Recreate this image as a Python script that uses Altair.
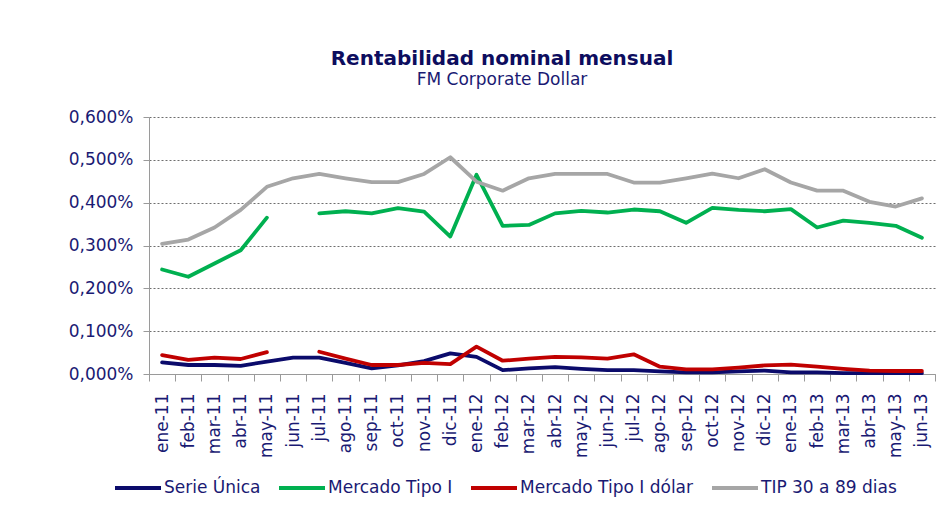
import altair as alt
import pandas as pd

months = ["ene-11", "feb-11", "mar-11", "abr-11", "may-11", "jun-11", "jul-11", "ago-11",
          "sep-11", "oct-11", "nov-11", "dic-11", "ene-12", "feb-12", "mar-12", "abr-12",
          "may-12", "jun-12", "jul-12", "ago-12", "sep-12", "oct-12", "nov-12", "dic-12",
          "ene-13", "feb-13", "mar-13", "abr-13", "may-13", "jun-13"]

series_names = ["Serie Única", "Mercado Tipo I", "Mercado Tipo I dólar", "TIP 30 a 89 dias"]
series_colors = ["#0B0B6B", "#00B050", "#C00000", "#A6A6A6"]

serie_unica = [0.027, 0.021, 0.021, 0.019, 0.029, 0.038, 0.038, 0.026, 0.013, 0.020,
               0.030, 0.048, 0.040, 0.009, 0.013, 0.016, 0.012, 0.009, 0.009, 0.006,
               0.004, 0.004, 0.006, 0.008, 0.004, 0.004, 0.002, 0.002, 0.002, 0.002]
mercado_tipo_i = [0.244, 0.227, 0.258, 0.289, 0.365, None, 0.375, 0.380, 0.375, 0.387,
                  0.379, 0.321, 0.465, 0.346, 0.348, 0.375, 0.381, 0.377, 0.384, 0.380,
                  0.353, 0.388, 0.383, 0.380, 0.385, 0.342, 0.358, 0.353, 0.346, 0.318]
mercado_dolar = [0.044, 0.033, 0.038, 0.035, 0.051, None, 0.052, 0.036, 0.021, 0.021,
                 0.026, 0.023, 0.064, 0.031, 0.036, 0.040, 0.039, 0.036, 0.046, 0.017,
                 0.011, 0.011, 0.015, 0.020, 0.022, 0.017, 0.012, 0.008, 0.007, 0.007]
tip_30_89 = [0.304, 0.314, 0.342, 0.383, 0.437, 0.457, 0.467, 0.457, 0.448, 0.448,
             0.467, 0.506, 0.449, 0.428, 0.457, 0.467, 0.467, 0.467, 0.447, 0.447,
             0.457, 0.468, 0.457, 0.478, 0.447, 0.428, 0.428, 0.402, 0.391, 0.410]

y_ticks = [0.0, 0.1, 0.2, 0.3, 0.4, 0.5, 0.6]

rows = []
for name, vals in zip(series_names, [serie_unica, mercado_tipo_i, mercado_dolar, tip_30_89]):
    for m, v in zip(months, vals):
        rows.append({"mes": m, "serie": name, "valor": v})
df = pd.DataFrame(rows)

label_color = "#1A1A73"
font = "DejaVu Sans"

chart = alt.Chart(df).mark_line(strokeWidth=3.8, strokeJoin="round", strokeCap="round").encode(
    x=alt.X("mes:N", sort=months, title=None,
            scale=alt.Scale(type="band", paddingInner=0, paddingOuter=0),
            axis=alt.Axis(labelAngle=270, tickBand="extent", grid=False, tickSize=7,
                          labelPadding=12, domainColor="#9A9A9A", tickColor="#9A9A9A",
                          labelColor=label_color, labelFont=font, labelFontSize=17)),
    y=alt.Y("valor:Q", title=None,
            scale=alt.Scale(domain=[0, 0.6], nice=False, zero=True),
            axis=alt.Axis(values=y_ticks,
                          labelExpr="replace(format(datum.value, '.3f'), '.', ',') + '%'",
                          grid=True, gridDash=[2, 2], gridColor="#6E6E6E", gridWidth=1,
                          tickSize=6, tickColor="#9A9A9A", domainColor="#9A9A9A",
                          labelPadding=10, labelColor=label_color, labelFont=font,
                          labelFontSize=17)),
    color=alt.Color("serie:N",
                    scale=alt.Scale(domain=series_names, range=series_colors),
                    legend=alt.Legend(title=None, orient="none", direction="horizontal",
                                      legendX=-36, legendY=346, symbolType="stroke",
                                      symbolSize=2116, symbolStrokeWidth=4,
                                      labelFont=font, labelFontSize=17, labelLimit=400,
                                      labelColor=label_color, labelOffset=1,
                                      columnPadding=10, padding=0)),
).properties(
    width=786,
    height=257,
    padding={"left": 141, "top": 109, "right": 2, "bottom": 130},
    autosize=alt.AutoSizeParams(type="none"),
    title=alt.TitleParams(text="Rentabilidad nominal mensual", subtitle="FM Corporate Dollar",
                          anchor="middle", frame="group", dx=-40, offset=20,
                          font=font, fontSize=20, fontWeight="bold", color="#0D0D5E",
                          subtitleFont=font, subtitleFontSize=17, subtitleColor=label_color,
                          subtitlePadding=3),
).configure_view(stroke=None)

chart.save("out.html", embed_options={"renderer": "svg", "actions": False})
